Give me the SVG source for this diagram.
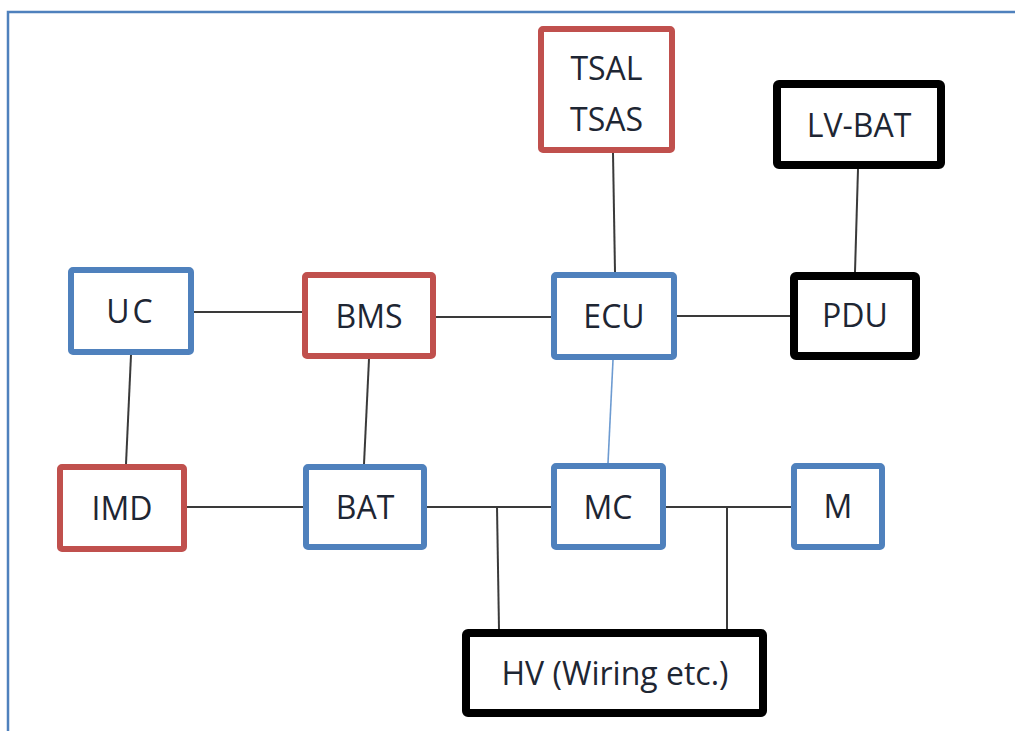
<svg xmlns="http://www.w3.org/2000/svg" width="1015" height="731" viewBox="0 0 1015 731">
<style>
.red{fill:#fff;stroke:#c0504d;stroke-width:6}
.blue{fill:#fff;stroke:#4f81bd;stroke-width:6}
.blk{fill:#fff;stroke:#000;stroke-width:8}
.lbl{font-family:"Open Sans","Liberation Sans",sans-serif;font-size:32px;fill:#1e2633;text-anchor:middle}
.ln{stroke:#3a3a3a;stroke-width:2;fill:none}
</style>
<rect width="1015" height="731" fill="#fff"/>
<polyline points="8,731 8,12 1015,12" fill="none" stroke="#4f81bd" stroke-width="2.5"/>
<g id="connectors">
<line class="ln" x1="194" y1="312" x2="302" y2="312"/>
<line class="ln" x1="436" y1="317" x2="551" y2="317"/>
<line class="ln" x1="677" y1="316" x2="790" y2="316"/>
<line class="ln" x1="613" y1="153" x2="615" y2="272"/>
<line class="ln" x1="858" y1="169" x2="855" y2="272"/>
<line class="ln" x1="131" y1="355" x2="126" y2="464"/>
<line class="ln" x1="369" y1="359" x2="364" y2="464"/>
<line x1="613" y1="360" x2="608" y2="463" stroke="#6d9bd1" stroke-width="1.6"/>
<line class="ln" x1="187" y1="507" x2="303" y2="507"/>
<line class="ln" x1="427" y1="507" x2="551" y2="507"/>
<line class="ln" x1="666" y1="507" x2="791" y2="507"/>
<line class="ln" x1="497" y1="507" x2="499" y2="629"/>
<line class="ln" x1="727" y1="507" x2="727" y2="629"/>
</g>
<g id="tsal"><rect class="red" x="541" y="29" width="131" height="121" rx="2"/><text class="lbl" x="606.5" y="80">TSAL</text><text class="lbl" x="606.5" y="131">TSAS</text></g>
<g id="lvbat"><rect class="blk" x="777" y="84" width="164" height="81" rx="2"/><text class="lbl" x="859" y="137">LV-BAT</text></g>
<g id="uc"><rect class="blue" x="71" y="270" width="120" height="82" rx="2"/><text class="lbl" x="131" y="323" letter-spacing="3">UC</text></g>
<g id="bms"><rect class="red" x="305" y="275" width="128" height="81" rx="2"/><text class="lbl" x="369" y="328">BMS</text></g>
<g id="ecu"><rect class="blue" x="554" y="275" width="120" height="82" rx="2"/><text class="lbl" x="614" y="328">ECU</text></g>
<g id="pdu"><rect class="blk" x="794" y="276" width="122" height="80" rx="2"/><text class="lbl" x="855" y="327">PDU</text></g>
<g id="imd"><rect class="red" x="60" y="467" width="124" height="82" rx="2"/><text class="lbl" x="122" y="520">IMD</text></g>
<g id="bat"><rect class="blue" x="306" y="467" width="118" height="80" rx="2"/><text class="lbl" x="365" y="519">BAT</text></g>
<g id="mc"><rect class="blue" x="554" y="466" width="109" height="81" rx="2"/><text class="lbl" x="608" y="519">MC</text></g>
<g id="m"><rect class="blue" x="794" y="466" width="88" height="81" rx="2"/><text class="lbl" x="838" y="518">M</text></g>
<g id="hv"><rect class="blk" x="466" y="633" width="297" height="80" rx="2"/><text class="lbl" x="615" y="685">HV (Wiring etc.)</text></g>
</svg>
